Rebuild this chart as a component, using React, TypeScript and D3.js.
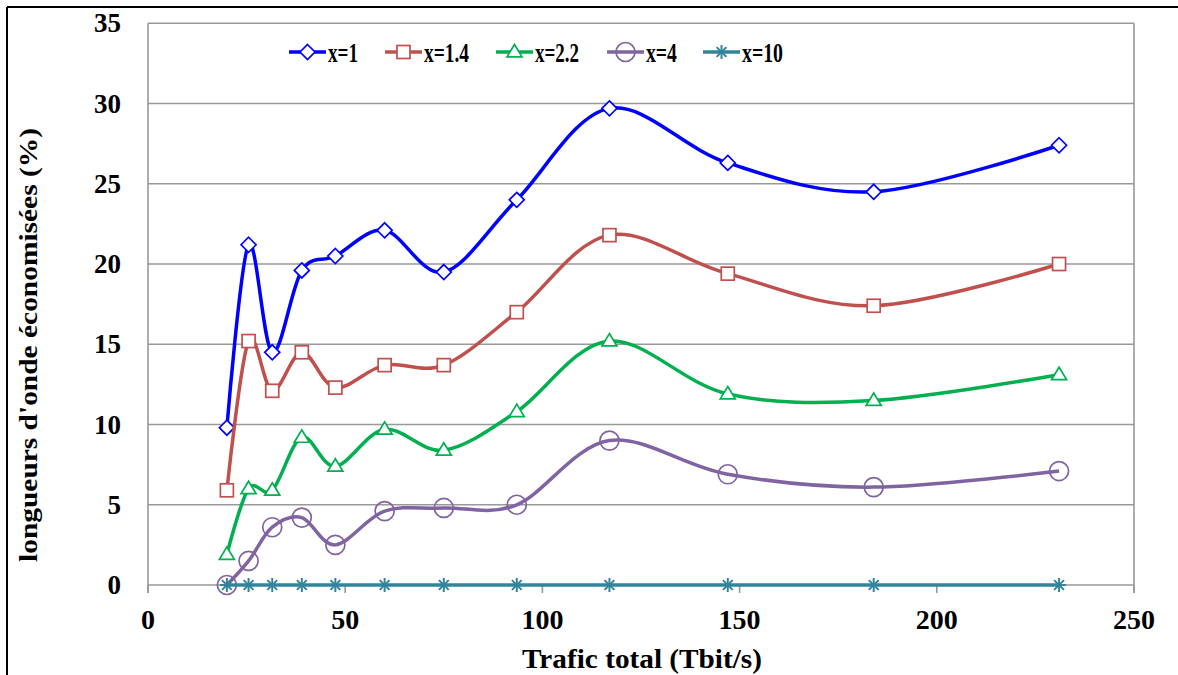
import React from "react";
import * as d3 from "d3";

const xValues = [20, 25.5, 31.5, 39, 47.5, 60, 75, 93.5, 117, 147, 184, 231];
const seriesNames = ["x=1", "x=1.4", "x=2.2", "x=4", "x=10"];
const seriesX1 = [9.8, 21.2, 14.5, 19.6, 20.5, 22.1, 19.5, 24.0, 29.7, 26.3, 24.5, 27.4];
const seriesX14 = [5.9, 15.2, 12.1, 14.5, 12.3, 13.7, 13.7, 17.0, 21.8, 19.4, 17.4, 20.0];
const seriesX22 = [1.9, 6.0, 5.9, 9.2, 7.4, 9.7, 8.4, 10.8, 15.2, 11.9, 11.5, 13.1];
const seriesX4 = [0, 1.5, 3.6, 4.2, 2.5, 4.6, 4.8, 5.0, 9.0, 6.9, 6.1, 7.1];
const seriesX10 = [0, 0, 0, 0, 0, 0, 0, 0, 0, 0, 0, 0];
const xTicks = [0, 50, 100, 150, 200, 250];
const yTicks = [0, 5, 10, 15, 20, 25, 30, 35];

const colors = ["#0000FF", "#C0504D", "#00B050", "#8064A2", "#31849B"];
const markers = ["diamond", "square", "triangle", "circle", "star"];
const allSeries = [seriesX1, seriesX14, seriesX22, seriesX4, seriesX10];

const W = 1178;
const H = 675;
const left = 148;
const right = 1134;
const top = 23.3;
const bottom = 585;

const FONT = '"Liberation Serif", "Times New Roman", "DejaVu Serif", serif';
const textStyle = { fontFamily: FONT, fontWeight: 700 as const };

function Marker({ type, x, y, color }: { type: string; x: number; y: number; color: string }) {
  const sw = 1.7;
  if (type === "diamond") {
    const r = 7.5;
    return (
      <path
        d={`M${x},${y - r}L${x + r},${y}L${x},${y + r}L${x - r},${y}Z`}
        fill="white"
        stroke={color}
        strokeWidth={sw}
      />
    );
  }
  if (type === "square") {
    const r = 6.5;
    return <rect x={x - r} y={y - r} width={2 * r} height={2 * r} fill="white" stroke={color} strokeWidth={sw} />;
  }
  if (type === "triangle") {
    const r = 7.5;
    return (
      <path
        d={`M${x},${y - r}L${x + r},${y + r * 0.65}L${x - r},${y + r * 0.65}Z`}
        fill="white"
        stroke={color}
        strokeWidth={sw}
      />
    );
  }
  if (type === "circle") {
    return <circle cx={x} cy={y} r={9.5} fill="none" stroke={color} strokeWidth={sw} />;
  }
  const r = 7;
  return (
    <g stroke={color} strokeWidth={2}>
      <line x1={x - r} y1={y} x2={x + r} y2={y} />
      <line x1={x} y1={y - r} x2={x} y2={y + r} />
      <line x1={x - r * 0.7} y1={y - r * 0.7} x2={x + r * 0.7} y2={y + r * 0.7} />
      <line x1={x - r * 0.7} y1={y + r * 0.7} x2={x + r * 0.7} y2={y - r * 0.7} />
    </g>
  );
}

export default function App() {
  const xScale = d3.scaleLinear().domain([0, 250]).range([left, right]);
  const yScale = d3.scaleLinear().domain([0, 35]).range([bottom, top]);

  const line = d3
    .line<[number, number]>()
    .x((d) => xScale(d[0]))
    .y((d) => yScale(d[1]))
    .curve(d3.curveCardinal.tension(0));

  const legendX = [289, 385, 496, 607, 703];
  const legendTextW = [30, 45, 44, 31, 41];
  const legendY = 52;

  return (
    <svg width={W} height={H} style={{ position: "absolute", left: 0, top: 0, background: "white" }}>
      <rect x={0} y={0} width={W} height={H} fill="white" />
      <line x1={7} y1={7} x2={W + 5} y2={7} stroke="black" strokeWidth={2} />
      <line x1={7} y1={7} x2={7} y2={H + 5} stroke="black" strokeWidth={2} />

      {yTicks.map((t) => (
        <line key={t} x1={left} x2={right} y1={yScale(t)} y2={yScale(t)} stroke="#999999" strokeWidth={1.6} />
      ))}
      <line x1={left} x2={left} y1={top} y2={bottom + 8} stroke="#999999" strokeWidth={1.6} />
      <line x1={right} x2={right} y1={top} y2={bottom + 8} stroke="#999999" strokeWidth={1.6} />
      {xTicks.map((t) => (
        <line key={t} x1={xScale(t)} x2={xScale(t)} y1={bottom} y2={bottom + 8} stroke="#999999" strokeWidth={1.6} />
      ))}

      {yTicks.map((t) => (
        <text key={t} x={121} y={yScale(t)} dy="0.34em" textAnchor="end" fontSize={27} style={textStyle}>
          {t}
        </text>
      ))}
      {xTicks.map((t) => (
        <text key={t} x={xScale(t)} y={629} textAnchor="middle" fontSize={28} style={textStyle}>
          {t}
        </text>
      ))}

      <text x={522} y={668} fontSize={27} style={textStyle} textLength={240} lengthAdjust="spacingAndGlyphs">
        Trafic total (Tbit/s)
      </text>
      <text
        transform="translate(37,562) rotate(-90)"
        fontSize={26}
        style={textStyle}
        textLength={434}
        lengthAdjust="spacingAndGlyphs"
      >
        longueurs d'onde économisées (%)
      </text>

      {allSeries.map((vals, i) => {
        const pts: [number, number][] = xValues.map((x, j) => [x, vals[j]]);
        return (
          <g key={i}>
            <path d={line(pts) || ""} fill="none" stroke={colors[i]} strokeWidth={3.5} />
            {pts.map((p, j) => (
              <Marker key={j} type={markers[i]} x={xScale(p[0])} y={yScale(p[1])} color={colors[i]} />
            ))}
          </g>
        );
      })}

      {seriesNames.map((name, i) => (
        <g key={name}>
          <line x1={legendX[i]} x2={legendX[i] + 37} y1={legendY} y2={legendY} stroke={colors[i]} strokeWidth={3.5} />
          <Marker type={markers[i]} x={legendX[i] + 18.5} y={legendY} color={colors[i]} />
          <text
            x={legendX[i] + 39}
            y={legendY}
            dy="0.34em"
            fontSize={28}
            style={textStyle}
            textLength={legendTextW[i]}
            lengthAdjust="spacingAndGlyphs"
          >
            {name}
          </text>
        </g>
      ))}
    </svg>
  );
}
